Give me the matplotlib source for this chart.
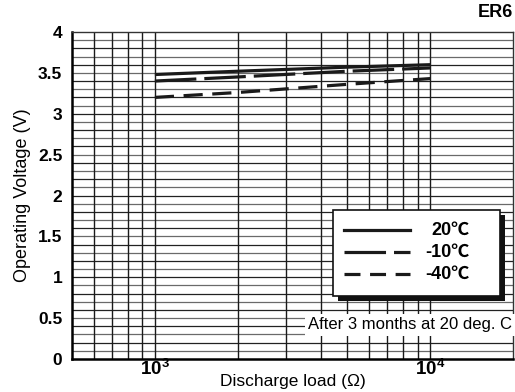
import matplotlib
matplotlib.use("Agg")
import matplotlib.pyplot as plt
from matplotlib.patches import Rectangle
from matplotlib.lines import Line2D
import numpy as np

plt.rcParams['font.family'] = ['Liberation Sans', 'DejaVu Sans']
plt.rcParams['mathtext.fontset'] = 'custom'
plt.rcParams['mathtext.rm'] = 'Liberation Sans'
plt.rcParams['mathtext.bf'] = 'Liberation Sans:bold'

# Discharge load (ohm) and operating voltage for each temperature
load = [1000, 2000, 5000, 10000]
v_20 = [3.48, 3.52, 3.57, 3.60]
v_m10 = [3.40, 3.45, 3.52, 3.56]
v_m40 = [3.20, 3.26, 3.36, 3.43]
labels = ['20\u2103', '-10\u2103', '-40\u2103']

fig = plt.figure(figsize=(5.15, 3.92), dpi=100)
ax = fig.add_axes([72 / 515, 33 / 392, 441 / 515, 327 / 392])
ax.set_xscale('log')
ax.set_xlim(500, 20000)
ax.set_ylim(0, 4)

# grid: every 0.1 V and each log step up to 10^4
for i, y in enumerate(np.arange(0.1, 4.0, 0.1)):
    ax.axhline(y, color='#222222' if i % 2 else '#6a6a6a', lw=0.9, zorder=1)
for x in [600, 700, 800, 900, 1000, 2000, 3000, 4000, 5000, 6000, 7000, 8000, 9000, 10000]:
    ax.axvline(x, color='#1a1a1a', lw=1.0, zorder=1)

lw = 2.3
ax.plot(load, v_20, color='#1a1a1a', lw=lw, solid_capstyle='butt', zorder=3)
ax.plot(load, v_m10, color='#1a1a1a', lw=lw, dashes=(13, 2.5), zorder=3)
ax.plot(load, v_m40, color='#1a1a1a', lw=lw, dashes=(6, 3), zorder=3)

for s in ['left', 'bottom']:
    ax.spines[s].set_linewidth(1.8)
for s in ['top', 'right']:
    ax.spines[s].set_linewidth(1.0)
    ax.spines[s].set_color('#333333')

ax.set_xticks([1000, 10000])
ax.set_xticklabels(['$\\mathbf{10^3}$', '$\\mathbf{10^4}$'])
ax.set_xticks([], minor=True)
ax.set_yticks([0, 0.5, 1, 1.5, 2, 2.5, 3, 3.5, 4])
ax.set_yticklabels(['0', '0.5', '1', '1.5', '2', '2.5', '3', '3.5', '4'])
ax.tick_params(length=0, labelsize=12.5, pad=7)
for t in ax.get_yticklabels():
    t.set_fontweight('bold')
ax.tick_params(axis='x', pad=0, labelsize=13.5)

ax.set_ylabel('Operating Voltage (V)', fontsize=13, labelpad=5)
ax.set_xlabel('Discharge load (\u03a9)', fontsize=12.5, labelpad=-4)

fig.text(0.996, 0.967, 'ER6', ha='right', va='center', fontsize=13, fontweight='bold')

# annotation with white background
ax.text(0.998, 0.104, 'After 3 months at 20 deg. C', transform=ax.transAxes,
        ha='right', va='center', fontsize=12, zorder=4,
        bbox=dict(facecolor='white', edgecolor='none', pad=2.5))

# legend box with drop shadow
tr = fig.transFigure
x0, y0, w, h = 333 / 515, (392 - 296) / 392, 167 / 515, 86 / 392
fig.patches.append(Rectangle((x0 + 5 / 515, y0 - 5 / 392), w, h, transform=tr,
                             facecolor='#111111', edgecolor='none', zorder=5))
fig.patches.append(Rectangle((x0, y0), w, h, transform=tr,
                             facecolor='white', edgecolor='#111111', lw=1.2, zorder=6))
styles = [dict(), dict(dashes=(13, 2.5)), dict(dashes=(5, 3))]
ys = [230, 252, 274]
for lab, st, yy in zip(labels, styles, ys):
    yf = (392 - yy) / 392
    fig.lines.append(Line2D([344 / 515, 410 / 515], [yf, yf], transform=tr,
                            color='#1a1a1a', lw=2.3, zorder=7, **st))
    fig.text(470 / 515, yf, lab, ha='right', va='center', fontsize=13,
             fontweight='bold', zorder=7,
             family=['Liberation Sans', 'Noto Sans CJK JP'])

fig.savefig('out.png', dpi=100)
